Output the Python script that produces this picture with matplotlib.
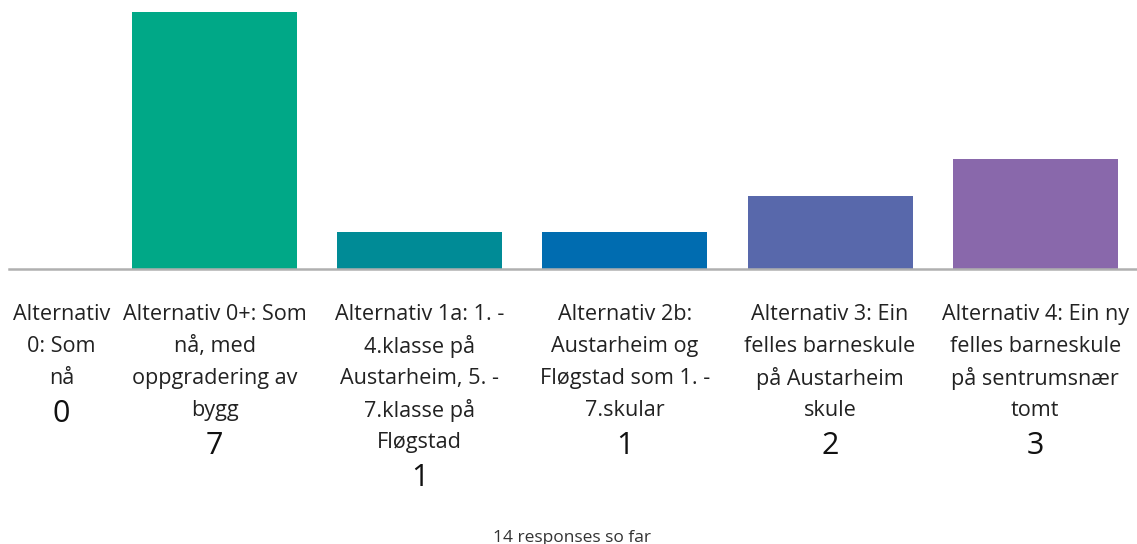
import matplotlib
matplotlib.use("Agg")
import matplotlib.pyplot as plt

categories = [
    "Alternativ\n0: Som\nnå",
    "Alternativ 0+: Som\nnå, med\noppgradering av\nbygg",
    "Alternativ 1a: 1. -\n4.klasse på\nAustarheim, 5. -\n7.klasse på\nFløgstad",
    "Alternativ 2b:\nAustarheim og\nFløgstad som 1. -\n7.skular",
    "Alternativ 3: Ein\nfelles barneskule\npå Austarheim\nskule",
    "Alternativ 4: Ein ny\nfelles barneskule\npå sentrumsnær\ntomt",
]
values = [0, 7, 1, 1, 2, 3]
colors = ["#00a887", "#00a887", "#008b96", "#006cb0", "#5868ab", "#8968ab"]
footer = "14 responses so far"

plt.rcParams['font.family'] = ['Open Sans', 'DejaVu Sans']
W, H = 1137, 544
fig = plt.figure(figsize=(W / 100, H / 100), dpi=100)

x0, base, top = 9.3, 269, 12
step = 205.2
ax = fig.add_axes([x0 / W, 1 - base / H, (W - x0) / W, (base - top) / H])
ax.set_xlim(0, (W - x0) / step)
ax.set_ylim(0, 7)
ax.bar(range(len(values)), values, width=0.805, color=colors, zorder=2)
ax.axhline(0, color="#b0b0b0", lw=1.8, zorder=3, clip_on=False)
ax.axis("off")

def ypix(p):
    # figure-pixel row (from top) -> data y
    return -(p - base) / (base - top) * 7

for i, (lab, v) in enumerate(zip(categories, values)):
    xc = max(i, 0.255)
    lines = lab.split("\n")
    for j, ln in enumerate(lines):
        ax.text(xc, ypix(312 + 32 * j), ln, ha="center", va="center_baseline",
                fontsize=15.6, color="#222222", clip_on=False)
    ax.text(xc, ypix(312 + 32 * len(lines) + 6), str(v),
            ha="center", va="center", fontsize=22, color="#111111", clip_on=False)

fig.text(572 / W, 1 - 530 / H, footer, ha="center", va="top", fontsize=12.5, color="#333333")
fig.savefig("out.png", dpi=100)
